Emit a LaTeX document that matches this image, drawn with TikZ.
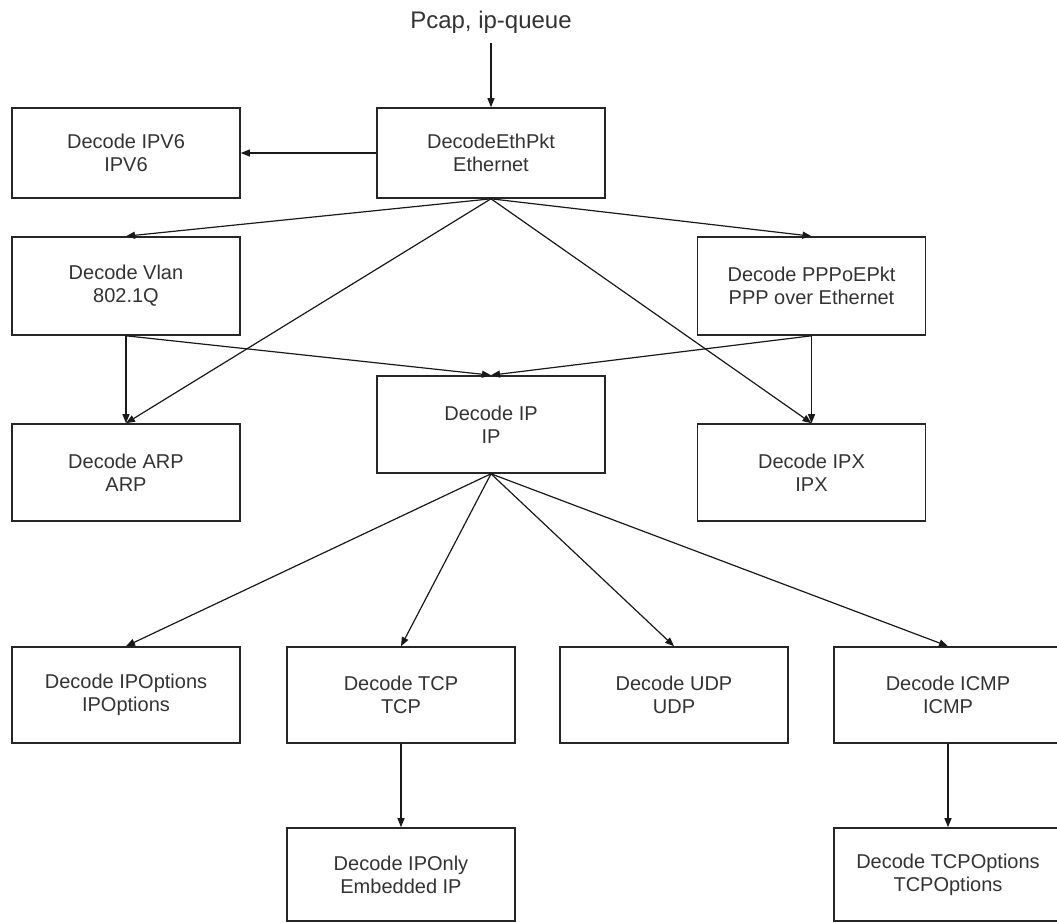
\documentclass[tikz,border=0pt]{standalone}
\usepackage{fontspec}
\setmainfont{Liberation Sans}
\usetikzlibrary{arrows.meta}
\begin{document}
\begin{tikzpicture}[x=1pt,y=-1pt,
  box/.style={draw=black!85, line width=1.6pt, rectangle,
    minimum width=228pt, minimum height=97pt, align=center,
    inner sep=0pt, font=\fontsize{20}{23}\selectfont, text=black!80},
  arr/.style={draw=black!90, line width=1.2pt,
    -{Triangle[length=9pt,width=7pt]}},
]
\useasboundingbox (0,0) rectangle (1057,923);

% source label
\node[font=\fontsize{24}{28}\selectfont, text=black!80, inner sep=0pt,
      outer ysep=10pt] (pcap) at (491,22) {Pcap, ip-queue};

% link layer
\node[box, minimum height=90pt] (ipv6) at (126,153) {Decode IPV6\\IPV6};
\node[box, minimum height=90pt] (eth)  at (491,153) {DecodeEthPkt\\Ethernet};
\node[box, minimum height=98pt] (vlan)  at (126,286) {Decode Vlan\\802.1Q};
\node[box, minimum height=98pt] (pppoe) at (811.5,286) {Decode PPPoEPkt\\PPP over Ethernet};

% network layer
\node[box] (ip)  at (491,424.5) {Decode IP\\IP};
\node[box] (arp) at (126,472.5) {Decode ARP\\ARP};
\node[box] (ipx) at (811.5,472.5) {Decode IPX\\IPX};

% transport layer
\node[box, minimum height=96pt] (ipopt) at (126,695) {Decode IPOptions\\IPOptions};
\node[box, minimum height=96pt] (tcp)   at (401,695) {Decode TCP\\TCP};
\node[box, minimum height=96pt] (udp)   at (674,695) {Decode UDP\\UDP};
\node[box, minimum height=96pt] (icmp)  at (948,695) {Decode ICMP\\ICMP};

% bottom row
\node[box, minimum height=93pt] (iponly) at (401,874.5) {Decode IPOnly\\Embedded IP};
\node[box, minimum height=93pt] (tcpopt) at (948,874.5) {Decode TCPOptions\\TCPOptions};

% connectors
\draw[arr] (pcap.south) -- (eth.north);
\draw[arr] (eth.west) -- (ipv6.east);
\draw[arr] (eth.south) -- (vlan.north);
\draw[arr] (eth.south) -- (arp.north);
\draw[arr] (eth.south) -- (pppoe.north);
\draw[arr] (eth.south) -- (ipx.north);
\draw[arr] (vlan.south) -- (arp.north);
\draw[arr] (vlan.south) -- (ip.north);
\draw[arr] (pppoe.south) -- (ip.north);
\draw[arr] (pppoe.south) -- (ipx.north);
\draw[arr] (ip.south) -- (ipopt.north);
\draw[arr] (ip.south) -- (tcp.north);
\draw[arr] (ip.south) -- (udp.north);
\draw[arr] (ip.south) -- (icmp.north);
\draw[arr] (tcp.south) -- (iponly.north);
\draw[arr] (icmp.south) -- (tcpopt.north);
\end{tikzpicture}
\end{document}
